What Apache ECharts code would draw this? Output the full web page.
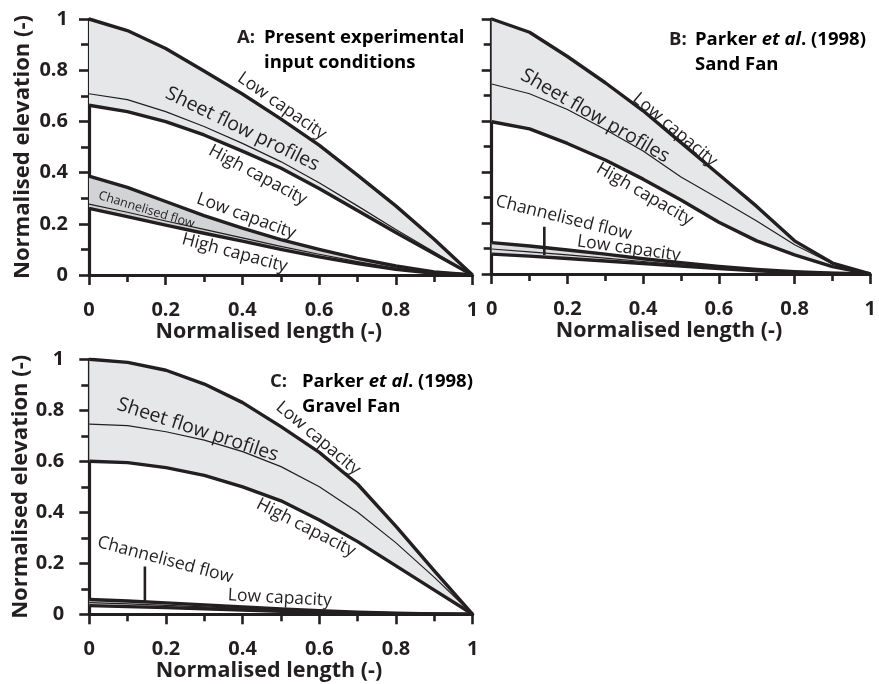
<!DOCTYPE html>
<html>
<head>
<meta charset="utf-8">
<script src="https://cdn.jsdelivr.net/npm/echarts/dist/echarts.min.js"></script>
<style>
  html, body { margin: 0; padding: 0; background: #ffffff; }
  #chart { width: 879px; height: 684px; }
</style>
</head>
<body>
<div id="chart"></div>
<script>
// Normalised downstream distance at which each profile is sampled
const lengthSteps = [0, 0.1, 0.2, 0.3, 0.4, 0.5, 0.6, 0.7, 0.8, 0.9, 1];
const tickLabels = ['0', '0.2', '0.4', '0.6', '0.8', '1'];

// A: present experimental input conditions
const aSheetLow  = [1.0, 0.955, 0.885, 0.797, 0.707, 0.61, 0.507, 0.39, 0.27, 0.14, 0];
const aSheetMid  = [0.708, 0.685, 0.638, 0.58, 0.514, 0.443, 0.36, 0.27, 0.178, 0.09, 0];
const aSheetHigh = [0.663, 0.638, 0.599, 0.547, 0.484, 0.418, 0.338, 0.252, 0.166, 0.083, 0];
const aChanLow   = [0.386, 0.342, 0.287, 0.232, 0.183, 0.138, 0.1, 0.065, 0.035, 0.012, 0];
const aChanMid   = [0.277, 0.245, 0.211, 0.178, 0.145, 0.112, 0.081, 0.052, 0.026, 0.008, 0];
const aChanHigh  = [0.26, 0.228, 0.195, 0.163, 0.132, 0.1, 0.071, 0.045, 0.022, 0.007, 0];

// B: Parker et al. (1998) sand fan
const bSheetLow  = [1.0, 0.948, 0.853, 0.75, 0.64, 0.515, 0.39, 0.265, 0.13, 0.043, 0];
const bSheetMid  = [0.745, 0.707, 0.645, 0.567, 0.482, 0.38, 0.295, 0.208, 0.115, 0.04, 0];
const bSheetHigh = [0.597, 0.569, 0.512, 0.447, 0.372, 0.29, 0.203, 0.13, 0.075, 0.029, 0];
const bChanLow   = [0.123, 0.11, 0.094, 0.078, 0.06, 0.044, 0.03, 0.018, 0.009, 0.003, 0];
const bChanMid   = [0.098, 0.087, 0.075, 0.062, 0.049, 0.036, 0.025, 0.015, 0.007, 0.002, 0];
const bChanHigh  = [0.078, 0.07, 0.061, 0.051, 0.041, 0.031, 0.021, 0.013, 0.006, 0.002, 0];
const bPointer   = [0.139, 0.075, 0.185];   // x, lower end, upper end

// C: Parker et al. (1998) gravel fan
const cSheetLow  = [1.0, 0.988, 0.957, 0.903, 0.83, 0.736, 0.635, 0.51, 0.345, 0.17, 0];
const cSheetMid  = [0.746, 0.74, 0.716, 0.683, 0.638, 0.579, 0.5, 0.4, 0.28, 0.145, 0];
const cSheetHigh = [0.6, 0.595, 0.575, 0.545, 0.5, 0.445, 0.37, 0.285, 0.19, 0.095, 0];
const cChanLow   = [0.058, 0.052, 0.045, 0.037, 0.029, 0.021, 0.014, 0.008, 0.004, 0.001, 0];
const cChanMid   = [0.046, 0.041, 0.035, 0.029, 0.023, 0.017, 0.011, 0.006, 0.003, 0.001, 0];
const cChanHigh  = [0.034, 0.03, 0.026, 0.022, 0.017, 0.012, 0.008, 0.005, 0.002, 0.001, 0];
const cPointer   = [0.145, 0.05, 0.187];

const INK = '#231f20';
const SHEET_FILL = '#e6e7e8';
const FONT = '"Open Sans", "Noto Sans", sans-serif';

const chart = echarts.init(document.getElementById('chart'), null, { renderer: 'canvas' });

const grids = [
  { left: 89,    top: 19,    width: 383.5, height: 256 },
  { left: 491.7, top: 19,    width: 382.6, height: 255 },
  { left: 89.3,  top: 359.3, width: 383.4, height: 255 }
];

function tickFmt(v) { return tickLabels[Math.round(v / 0.2)]; }

function xAxisFor(g) {
  return {
    type: 'value', gridIndex: g, min: 0, max: 1, interval: 0.2,
    name: 'Normalised length (-)', nameLocation: 'middle', nameGap: 44,
    nameTextStyle: { fontFamily: FONT, fontWeight: 'bold', fontSize: 21.5, color: INK, padding: [0, 24, 0, 0] },
    axisLine: { onZero: false, lineStyle: { color: INK, width: 3.2 } },
    axisTick: { length: 10, lineStyle: { color: INK, width: 2.6 } },
    minorTick: { show: true, splitNumber: 2, length: 7, lineStyle: { color: INK, width: 2.6 } },
    splitLine: { show: false }, minorSplitLine: { show: false },
    axisLabel: { margin: 25, fontFamily: FONT, fontWeight: 'bold', fontSize: 20, color: INK, formatter: tickFmt }
  };
}

function yAxisFor(g, withLabels, labelMargin) {
  return {
    type: 'value', gridIndex: g, min: 0, max: 1, interval: 0.2,
    name: withLabels ? 'Normalised elevation (-)' : '', nameLocation: 'middle', nameGap: 55,
    nameTextStyle: { fontFamily: FONT, fontWeight: 'bold', fontSize: 22, color: INK },
    axisLine: { onZero: false, lineStyle: { color: INK, width: 3.2 } },
    axisTick: { length: 10, lineStyle: { color: INK, width: 2.6 } },
    minorTick: { show: true, splitNumber: 2, length: 8, lineStyle: { color: INK, width: 2.6 } },
    splitLine: { show: false }, minorSplitLine: { show: false },
    axisLabel: { show: withLabels, margin: labelMargin, fontFamily: FONT, fontWeight: 'bold', fontSize: 20, color: INK, formatter: tickFmt }
  };
}

function band(g, upper, lower, fill) {
  return {
    type: 'custom', xAxisIndex: g, yAxisIndex: g, silent: true, z: 1, clip: false,
    data: [[0, 0]],
    renderItem: function (params, api) {
      const pts = [];
      lengthSteps.forEach(function (x, i) { pts.push(api.coord([x, upper[i]])); });
      for (let i = lengthSteps.length - 1; i >= 0; i--) pts.push(api.coord([lengthSteps[i], lower[i]]));
      return { type: 'polygon', shape: { points: pts }, style: { fill: fill, stroke: null } };
    }
  };
}

function curve(g, values, width) {
  return {
    type: 'line', xAxisIndex: g, yAxisIndex: g, silent: true, z: 3,
    data: lengthSteps.map(function (x, i) { return [x, values[i]]; }),
    symbol: 'none', smooth: false,
    lineStyle: { color: INK, width: width, join: 'round' }
  };
}

function pointer(g, p) {
  return {
    type: 'line', xAxisIndex: g, yAxisIndex: g, silent: true, z: 3,
    data: [[p[0], p[1]], [p[0], p[2]]], symbol: 'none',
    lineStyle: { color: INK, width: 2.6 }
  };
}

function panelSeries(g, sl, sm, sh, cl, cm, ch, chanFill) {
  return [
    band(g, sl, sh, SHEET_FILL),
    band(g, cl, ch, chanFill),
    curve(g, sl, 3.4), curve(g, sm, 1.2), curve(g, sh, 3.4),
    curve(g, cl, 3.4), curve(g, cm, 1.2), curve(g, ch, 3.4)
  ];
}

const series = [].concat(
  panelSeries(0, aSheetLow, aSheetMid, aSheetHigh, aChanLow, aChanMid, aChanHigh, '#d1d3d4'),
  panelSeries(1, bSheetLow, bSheetMid, bSheetHigh, bChanLow, bChanMid, bChanHigh, '#dcdddf'),
  panelSeries(2, cSheetLow, cSheetMid, cSheetHigh, cChanLow, cChanMid, cChanHigh, '#dcdddf'),
  [pointer(1, bPointer), pointer(2, cPointer)]
);

chart.setOption({
  animation: false,
  backgroundColor: '#ffffff',
  grid: grids,
  xAxis: [xAxisFor(0), xAxisFor(1), xAxisFor(2)],
  yAxis: [yAxisFor(0, true, 21), yAxisFor(1, false, 21), yAxisFor(2, true, 25)],
  series: series
});

// Curve annotations: [grid, x, y, rotation in degrees (clockwise), text, font size]
const curveNotes = [
  [0, 0.503, 0.66, 35, 'Low capacity', 17.5],
  [0, 0.40, 0.57, 26, 'Sheet flow profiles', 19.5],
  [0, 0.44, 0.39, 28, 'High capacity', 17.5],
  [0, 0.41, 0.23, 20, 'Low capacity', 17.5],
  [0, 0.15, 0.254, 17, 'Channelised flow', 12.5],
  [0, 0.38, 0.086, 15, 'High capacity', 17.5],
  [1, 0.484, 0.565, 40, 'Low capacity', 17.5],
  [1, 0.273, 0.62, 30, 'Sheet flow profiles', 19.5],
  [1, 0.404, 0.313, 30, 'High capacity', 17.5],
  [1, 0.19, 0.22, 14, 'Channelised flow', 17.5],
  [1, 0.362, 0.10, 8, 'Low capacity', 17.5],
  [2, 0.597, 0.69, 40, 'Low capacity', 17.5],
  [2, 0.283, 0.723, 18, 'Sheet flow profiles', 19.5],
  [2, 0.565, 0.34, 27, 'High capacity', 17.5],
  [2, 0.198, 0.213, 15, 'Channelised flow', 17.5],
  [2, 0.497, 0.064, 3, 'Low capacity', 17.5]
];

const graphics = curveNotes.map(function (n) {
  const p = chart.convertToPixel({ gridIndex: n[0] }, [n[1], n[2]]);
  return {
    type: 'text', x: p[0], y: p[1], rotation: -n[3] * Math.PI / 180, z: 10, silent: true,
    style: { text: n[4], fontFamily: FONT, fontSize: n[5], fill: INK, align: 'center', verticalAlign: 'middle' }
  };
});

function titleRich(size) {
  return {
    b: { fontFamily: FONT, fontWeight: 'bold', fontSize: size, color: INK, lineHeight: 25 },
    i: { fontFamily: FONT, fontWeight: 'bold', fontStyle: 'italic', fontSize: size, color: INK, lineHeight: 25 }
  };
}

// Panel headings
const headings = [
  [237, 38, 'A:', 264, '{b|Present experimental}\n{b|input conditions}'],
  [669, 40, 'B:', 695, '{b|Parker }{i|et al}{b|. (1998)}\n{b|Sand Fan}'],
  [270, 382, 'C:', 302, '{b|Parker }{i|et al}{b|. (1998)}\n{b|Gravel Fan}']
];
headings.forEach(function (h) {
  graphics.push({
    type: 'text', x: h[0], y: h[1], z: 10, silent: true,
    style: { text: h[2], fontFamily: FONT, fontWeight: 'bold', fontSize: 18.5, fill: INK, align: 'left', verticalAlign: 'middle' }
  });
  graphics.push({
    type: 'text', x: h[3], y: h[1] - 12.5, z: 10, silent: true,
    style: { text: h[4], rich: titleRich(18.5), align: 'left', verticalAlign: 'top' }
  });
});

chart.setOption({ graphic: graphics });
</script>
</body>
</html>
